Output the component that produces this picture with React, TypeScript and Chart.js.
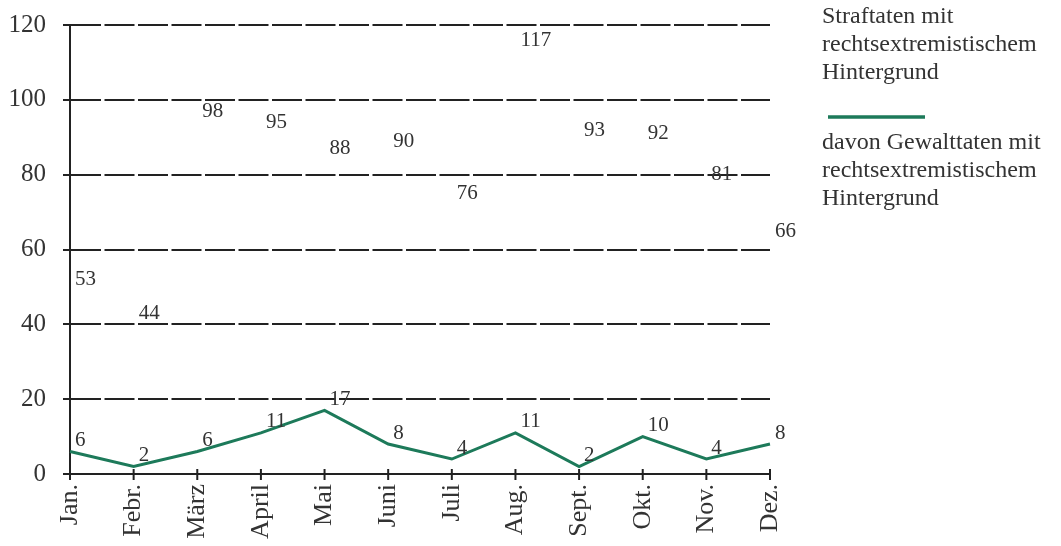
import React, { useEffect, useRef } from "react";
import { Chart, registerables } from "chart.js";

Chart.register(...registerables);

const months = ["Jan.", "Febr.", "März", "April", "Mai", "Juni", "Juli", "Aug.", "Sept.", "Okt.", "Nov.", "Dez."];
const straftaten = [53, 44, 98, 95, 88, 90, 76, 117, 93, 92, 81, 66];
const gewalttaten = [6, 2, 6, 11, 17, 8, 4, 11, 2, 10, 4, 8];
const legendStraftaten = ["Straftaten mit", "rechtsextremistischem", "Hintergrund"];
const legendGewalttaten = ["davon Gewalttaten mit", "rechtsextremistischem", "Hintergrund"];
const yMin = 0;
const yMax = 120;
const yStep = 20;

const FONT = "'Liberation Serif', 'DejaVu Serif', serif";
const GREEN = "#1d7a5a";
const INK = "#222";

const overlay = {
  id: "overlay",
  afterDatasetsDraw(chart: any) {
    const { ctx, chartArea } = chart;
    const xs = chart.scales.x;
    ctx.save();
    // x tick marks crossing the axis
    ctx.strokeStyle = INK;
    ctx.lineWidth = 2;
    for (let i = 0; i < months.length; i++) {
      const px = xs.getPixelForValue(i);
      ctx.beginPath();
      ctx.moveTo(px, chartArea.bottom - 5);
      ctx.lineTo(px, chartArea.bottom + 6);
      ctx.stroke();
    }
    // data labels
    ctx.fillStyle = "#333";
    ctx.font = `21px ${FONT}`;
    ctx.textAlign = "left";
    ctx.textBaseline = "middle";
    const m0 = chart.getDatasetMeta(0);
    m0.data.forEach((pt: any, i: number) => {
      ctx.fillText(String(straftaten[i]), pt.x + 5, pt.y + 4);
    });
    const m1 = chart.getDatasetMeta(1);
    m1.data.forEach((pt: any, i: number) => {
      ctx.fillText(String(gewalttaten[i]), pt.x + 5, pt.y - 11);
    });
    // legend
    const lx = chartArea.right + 52;
    ctx.font = `24px ${FONT}`;
    ctx.fillStyle = "#333";
    legendStraftaten.forEach((t, i) => ctx.fillText(t, lx, 17 + i * 28));
    ctx.strokeStyle = GREEN;
    ctx.lineWidth = 3.5;
    ctx.beginPath();
    ctx.moveTo(lx + 6, 117);
    ctx.lineTo(lx + 103, 117);
    ctx.stroke();
    legendGewalttaten.forEach((t, i) => ctx.fillText(t, lx, 143 + i * 28));
    ctx.restore();
  },
};

export default function App() {
  const ref = useRef<HTMLCanvasElement | null>(null);
  useEffect(() => {
    if (!ref.current) return;
    const chart = new Chart(ref.current, {
      type: "line",
      data: {
        labels: months,
        datasets: [
          {
            label: "Straftaten mit rechtsextremistischem Hintergrund",
            data: straftaten,
            showLine: false,
            pointRadius: 0,
            borderColor: "rgba(0,0,0,0)",
            backgroundColor: "rgba(0,0,0,0)",
          },
          {
            label: "davon Gewalttaten mit rechtsextremistischem Hintergrund",
            data: gewalttaten,
            borderColor: GREEN,
            borderWidth: 3,
            pointRadius: 0,
            tension: 0,
            fill: false,
          },
        ],
      },
      options: {
        animation: false,
        responsive: true,
        maintainAspectRatio: false,
        layout: { padding: { left: 0, top: 25, right: 291, bottom: 0 } },
        plugins: { legend: { display: false }, tooltip: { enabled: false } },
        scales: {
          x: {
            offset: false,
            grid: { display: true, drawOnChartArea: false, drawTicks: false },
            border: { display: true, color: INK, width: 2 },
            ticks: {
              autoSkip: false,
              minRotation: 90,
              maxRotation: 90,
              padding: 10,
              color: "#333",
              font: { family: FONT, size: 26 },
            },
            afterFit: (s: any) => {
              s.height = 72;
            },
          },
          y: {
            min: yMin,
            max: yMax,
            grid: { color: INK, lineWidth: 2, drawTicks: true, tickLength: 7, tickColor: INK, tickWidth: 2 },
            border: { display: true, color: INK, width: 2, dash: [30, 3.5] },
            ticks: {
              stepSize: yStep,
              padding: 17,
              color: "#333",
              font: { family: FONT, size: 25 },
            },
            afterFit: (s: any) => {
              s.width = 70;
              s.paddingTop = 10;
              s.paddingBottom = 10;
            },
          },
        },
      },
      plugins: [overlay],
    });
    return () => chart.destroy();
  }, []);
  return (
    <div style={{ position: "fixed", left: 0, top: 0, width: 1061, height: 546, background: "#fff" }}>
      <canvas ref={ref} />
    </div>
  );
}
